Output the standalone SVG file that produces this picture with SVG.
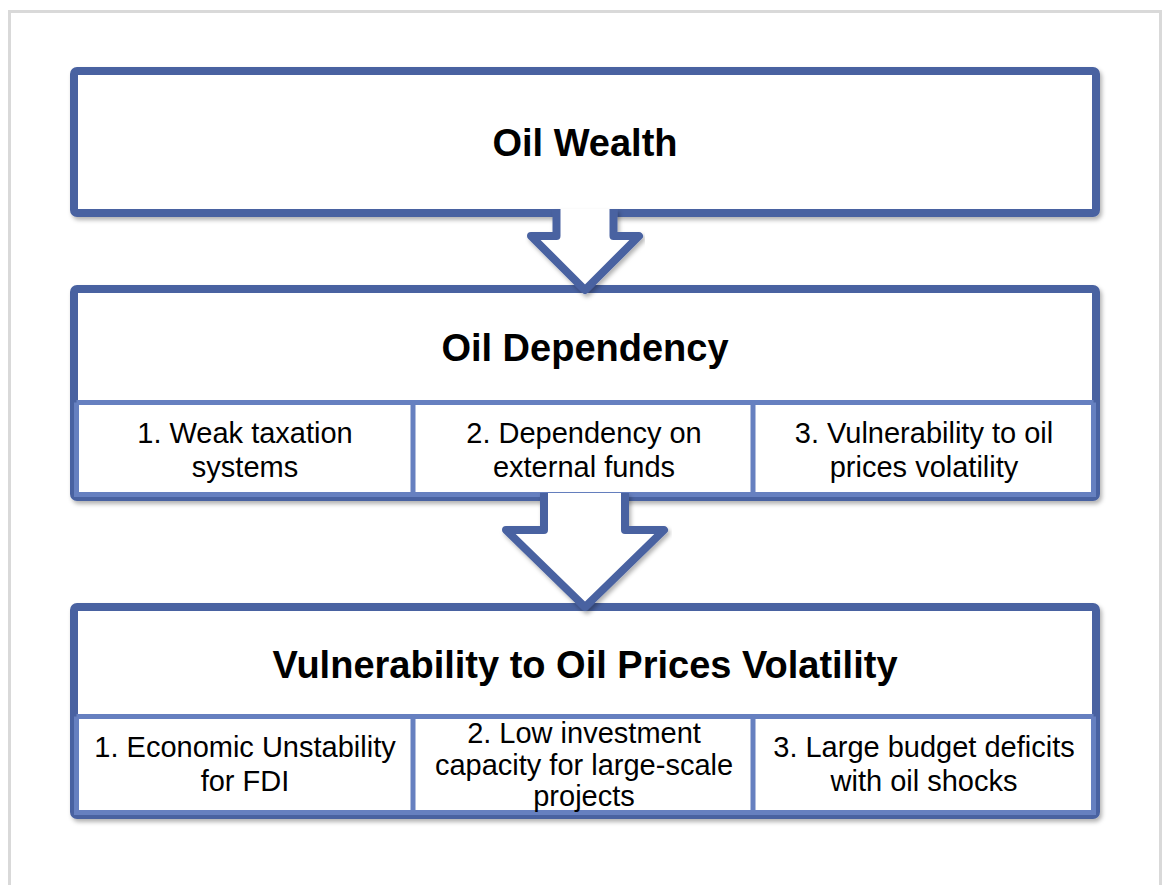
<svg xmlns="http://www.w3.org/2000/svg" width="1169" height="885" viewBox="0 0 1169 885">
<style>
.page{fill:none;stroke:#d9d9d9;stroke-width:3}
.box{fill:#ffffff;stroke:#4a62a1;stroke-width:8}
.sub{fill:none;stroke:#6680c0;stroke-width:5}
.arrowfill{fill:#ffffff}
.arrowline{fill:none;stroke:#4a62a1;stroke-width:8;stroke-linejoin:round;stroke-linecap:square}
.title{font-family:"Liberation Sans",Arial,sans-serif;font-weight:bold;font-size:38px;fill:#000;text-anchor:middle}
.cell{font-family:"Liberation Sans",Arial,sans-serif;font-size:29px;fill:#000;text-anchor:middle}
</style>
<defs>
<filter id="sh" x="-5%" y="-10%" width="110%" height="130%">
<feDropShadow dx="2" dy="3" stdDeviation="2" flood-color="#000" flood-opacity="0.3"/>
</filter>
</defs>
<rect class="page" x="9.5" y="11.5" width="1151" height="900"/>

<g id="oil-wealth">
<rect class="box" x="74" y="71" width="1022" height="142" rx="3" filter="url(#sh)"/>
<text class="title" x="585" y="156">Oil Wealth</text>
</g>

<g id="oil-dependency">
<rect class="box" x="74" y="289" width="1022" height="208" rx="3" filter="url(#sh)"/>
<path class="sub" d="M76.5 402.5 H1093.5 M413 402.5 V495 M753 402.5 V495 M76.5 402.5 V494.5 H1093.5 V402.5"/>
<text class="title" x="585" y="361">Oil Dependency</text>
<text class="cell" x="245" y="443">1. Weak taxation</text>
<text class="cell" x="245" y="477">systems</text>
<text class="cell" x="584" y="443">2. Dependency on</text>
<text class="cell" x="584" y="477">external funds</text>
<text class="cell" x="924" y="443">3. Vulnerability to oil</text>
<text class="cell" x="924" y="477">prices volatility</text>
</g>

<g id="vulnerability">
<rect class="box" x="74" y="607" width="1022" height="208" rx="3" filter="url(#sh)"/>
<path class="sub" d="M76.5 716.5 H1093.5 M413 716.5 V813 M753 716.5 V813 M76.5 716.5 V812.5 H1093.5 V716.5"/>
<text class="title" x="585" y="678">Vulnerability to Oil Prices Volatility</text>
<text class="cell" x="245" y="757">1. Economic Unstability</text>
<text class="cell" x="245" y="791">for FDI</text>
<text class="cell" x="584" y="743">2. Low investment</text>
<text class="cell" x="584" y="775">capacity for large-scale</text>
<text class="cell" x="584" y="806">projects</text>
<text class="cell" x="924" y="757">3. Large budget deficits</text>
<text class="cell" x="924" y="791">with oil shocks</text>
</g>

<g id="connectors">
<g filter="url(#sh)">
<polygon class="arrowfill" points="556.5,209 613.5,209 613.5,236 639,236 585,290 531,236 556.5,236"/>
<path class="arrowline" d="M556.5 213 V236 H531 L585 290 L639 236 H613.5 V213"/>
</g>
<g filter="url(#sh)">
<polygon class="arrowfill" points="544,493 625,493 625,530 664,530 585,607 506,530 544,530"/>
<path class="arrowline" d="M544 497 V530 H506 L585 607 L664 530 H625 V497"/>
</g>
</g>
</svg>
